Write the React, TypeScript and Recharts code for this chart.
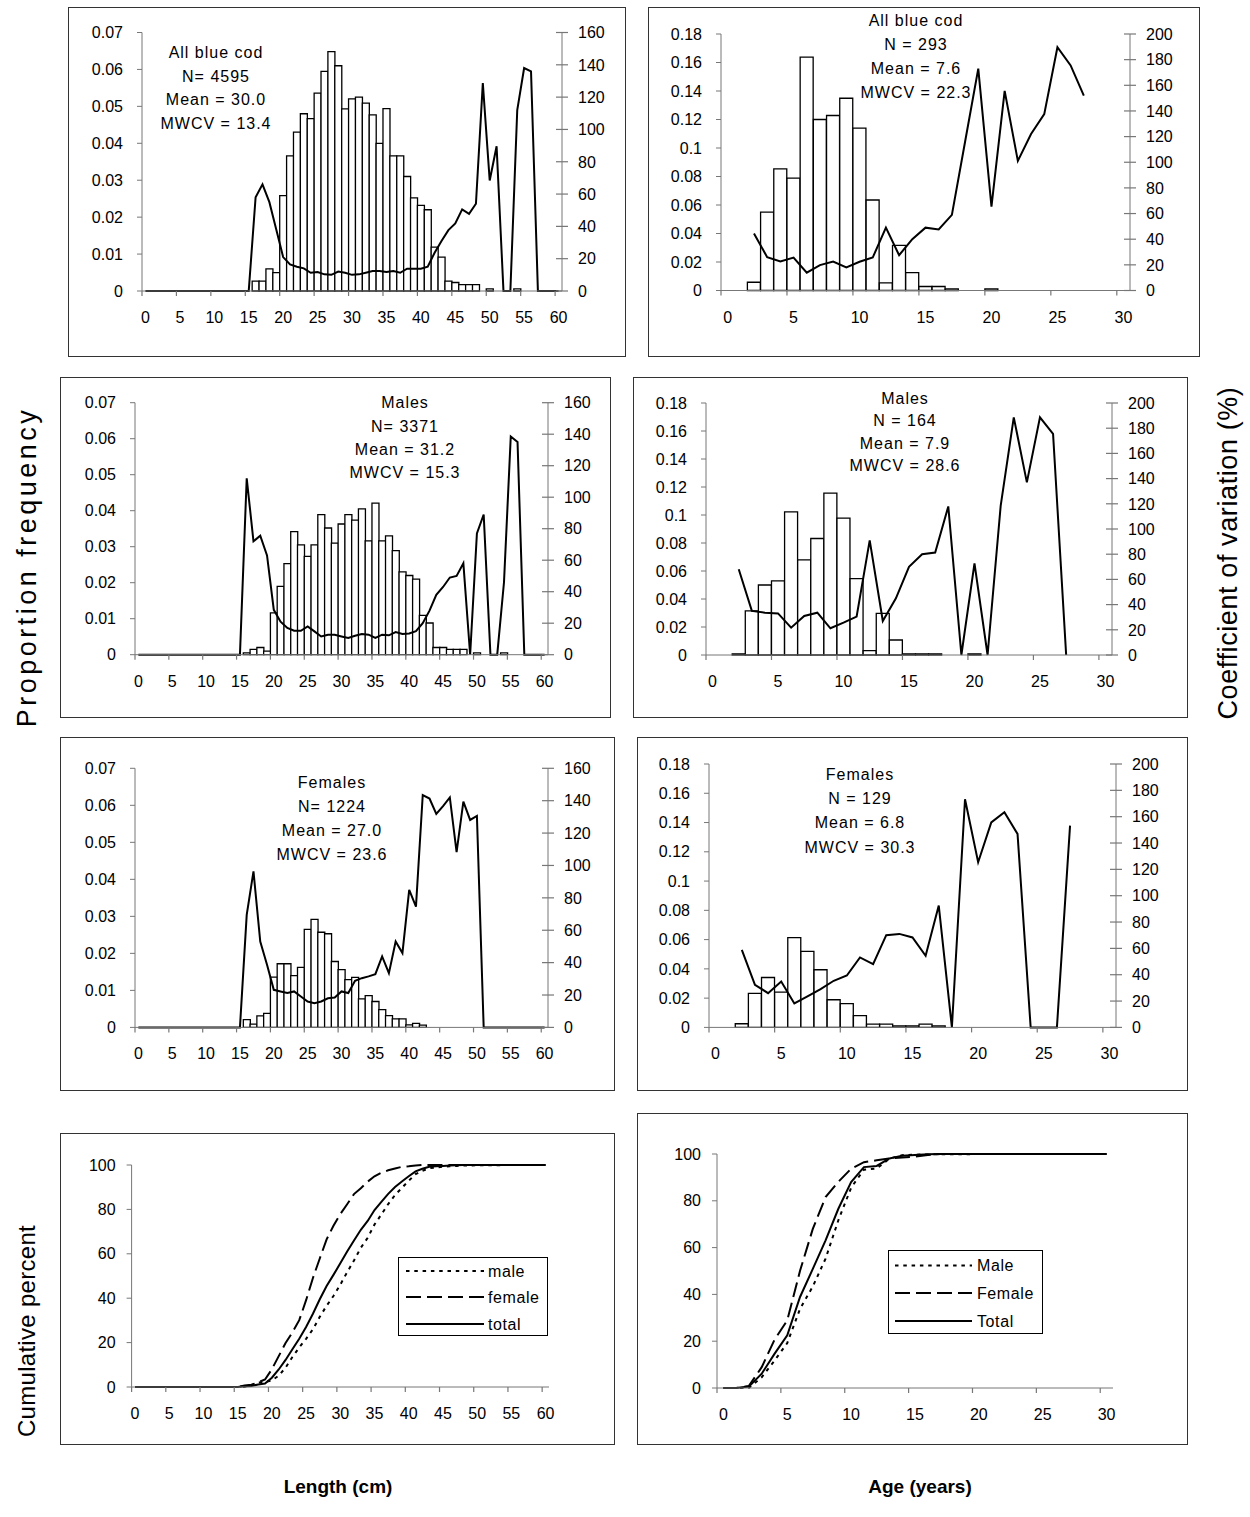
import React from "react";
import { Bar, ComposedChart, Line, XAxis, YAxis } from "recharts";

const FONT = "'Liberation Sans', Arial, Helvetica, sans-serif";
const INK = "#000";
const AXIS = "#777";

// class labels: 1 cm length classes and 1 year age classes
const lengthBins = Array.from({ length: 61 }, (_, i) => i);
const ageBins = Array.from({ length: 31 }, (_, i) => i);

const propTicksLength = [0, 0.01, 0.02, 0.03, 0.04, 0.05, 0.06, 0.07];
const propTicksAge = [0, 0.02, 0.04, 0.06, 0.08, 0.1, 0.12, 0.14, 0.16, 0.18];
const cvTicksLength = [0, 20, 40, 60, 80, 100, 120, 140, 160];
const cvTicksAge = [0, 20, 40, 60, 80, 100, 120, 140, 160, 180, 200];
const cumTicks = [0, 20, 40, 60, 80, 100];

// proportion at length / CV (%) at length
const lenPropAll = [
  0, 0, 0, 0, 0, 0, 0, 0, 0, 0,
  0, 0, 0, 0, 0, 0, 0.0027, 0.0027, 0.006, 0.005,
  0.0258, 0.0366, 0.043, 0.048, 0.0467, 0.0536, 0.0595, 0.0648, 0.061, 0.0493,
  0.052, 0.0525, 0.0509, 0.0477, 0.04, 0.0494, 0.0366, 0.0366, 0.031, 0.0252,
  0.0232, 0.022, 0.0119, 0.0092, 0.0027, 0.0023, 0.0017, 0.0017, 0.0017, 0,
  0.0006, 0, 0, 0, 0.0006, 0, 0, 0, 0, 0,
  0,
];
const lenCvAll = [
  0, 0, 0, 0, 0, 0, 0, 0, 0, 0,
  0, 0, 0, 0, 0, 0, 58, 66, 55, 38,
  21, 16.5, 15, 14, 11.3, 11.7, 10.3, 10, 12, 11.3,
  10, 10.3, 11.3, 12.4, 12.4, 11.7, 12.4, 11.3, 13.8, 13.8,
  13.8, 15, 23.7, 31, 37.7, 41.8, 50.5, 47.8, 54, 128.7,
  68.4, 89.6, 0, 0, 112, 138, 136, 0, 0, 0,
  0,
];
const lenPropMale = [
  0, 0, 0, 0, 0, 0, 0, 0, 0, 0,
  0, 0, 0, 0, 0, 0, 0.0005, 0.0015, 0.002, 0.001,
  0.0116, 0.019, 0.0253, 0.0342, 0.0305, 0.0273, 0.0305, 0.0389, 0.0352, 0.031,
  0.0363, 0.0389, 0.0374, 0.0405, 0.0316, 0.0421, 0.0316, 0.033, 0.0289, 0.023,
  0.022, 0.021, 0.0109, 0.0088, 0.002, 0.002, 0.0015, 0.0015, 0.0015, 0,
  0.0005, 0, 0, 0, 0.0005, 0, 0, 0, 0, 0,
  0,
];
const lenCvMale = [
  0, 0, 0, 0, 0, 0, 0, 0, 0, 0,
  0, 0, 0, 0, 0, 0, 112, 72, 75.5, 63,
  28.5, 21, 17, 15.2, 15.2, 18, 14.8, 11.6, 12.7, 12.7,
  11.6, 10.6, 12, 13.1, 12.7, 10.6, 12.7, 12.3, 14.4, 13.1,
  13.5, 15, 20, 28, 38, 43, 49, 50, 58, 0,
  77, 89, 0, 0, 46, 138.5, 135, 0, 0, 0,
  0,
];
const lenPropFemale = [
  0, 0, 0, 0, 0, 0, 0, 0, 0, 0,
  0, 0, 0, 0, 0, 0, 0.0021, 0.0009, 0.0031, 0.0038,
  0.0136, 0.0172, 0.0172, 0.014, 0.0162, 0.0265, 0.0292, 0.0257, 0.0253, 0.0178,
  0.0156, 0.0129, 0.0135, 0.0077, 0.0086, 0.007, 0.0048, 0.0032, 0.0023, 0.0023,
  0.0007, 0.0011, 0.0006, 0, 0, 0, 0, 0, 0, 0,
  0, 0, 0, 0, 0, 0, 0, 0, 0, 0,
  0,
];
const lenCvFemale = [
  0, 0, 0, 0, 0, 0, 0, 0, 0, 0,
  0, 0, 0, 0, 0, 0, 69.5, 96.3, 53, 38.7,
  23.2, 22.2, 21.2, 22.2, 19.1, 16, 15, 16, 18, 18.5,
  22.2, 21.2, 28.8, 30.4, 31.5, 32.9, 43.8, 33.5, 53, 45.9,
  84.9, 74.6, 143.5, 141.3, 131.8, 136.7, 142, 108.2, 139.4, 128.1,
  130.6, 0, 0, 0, 0, 0, 0, 0, 0, 0,
  0,
];

// proportion at age / CV (%) at age
const agePropAll = [
  0, 0, 0.0058, 0.055, 0.0853, 0.0788, 0.1638, 0.12, 0.1228, 0.1349,
  0.114, 0.0635, 0.0053, 0.0317, 0.0125, 0.0028, 0.0028, 0.0012, 0, 0,
  0.0012, 0, 0, 0, 0, 0, 0, 0, 0, 0,
  0,
];
const ageCvAll = [
  null, null, 44.5, 26, 22.6, 25.7, 13.9, 19.8, 22.6, 18,
  22.4, 25.7, 49, 27.5, 40, 49, 47.6, 59, 116, 173,
  65.4, 155.7, 101, 122, 137.5, 189.7, 175.5, 152, null, null,
  null,
];
const agePropMale = [
  0, 0, 0.0008, 0.0315, 0.05, 0.053, 0.1023, 0.068, 0.0832, 0.1156,
  0.0977, 0.0546, 0.0031, 0.0298, 0.0107, 0.0008, 0.0008, 0.0008, 0, 0,
  0.0008, 0, 0, 0, 0, 0, 0, 0, 0, 0,
  0,
];
const ageCvMale = [
  null, null, 68, 35, 33.6, 33, 21.7, 31, 33.6, 21.2,
  25.7, 30.5, 91, 27, 45, 70, 80, 81.3, 117.9, 0,
  72.8, 0, 118.4, 188.6, 137, 188.6, 175.4, 0, null, null,
  null,
];
const agePropFemale = [
  0, 0, 0.0025, 0.0232, 0.0341, 0.0241, 0.0614, 0.0519, 0.0394, 0.0189,
  0.0162, 0.008, 0.0023, 0.0023, 0.0011, 0.0011, 0.0023, 0.0011, 0, 0,
  0, 0, 0, 0, 0, 0, 0, 0, 0, 0,
  0,
];
const ageCvFemale = [
  null, null, 58.9, 32.4, 26, 34.9, 18.2, 23.5, 29, 35.4,
  39.4, 53.1, 48, 70, 71, 68.3, 54.4, 92.5, 0, 173.2,
  125.4, 155.7, 163.4, 146.9, 0, 0, 0, 153.2, null, null,
  null,
];

// cumulative percent at length
const cumLenMale = [
  0, 0, 0, 0, 0, 0, 0, 0, 0, 0,
  0, 0, 0, 0, 0, 0, 0.1, 0.8, 2, 2.2,
  3, 5.1, 8.7, 13.5, 17.8, 21.7, 26, 31.6, 36.6, 41,
  46.1, 51.7, 57, 62.7, 67.2, 73.2, 77.7, 82.4, 86.5, 89.7,
  92.9, 95.9, 97.4, 98.6, 98.9, 99.2, 99.4, 99.6, 99.8, 99.8,
  99.9, 99.9, 99.9, 99.9, 100, 100, 100, 100, 100, 100,
  100,
];
const cumLenFemale = [
  0, 0, 0, 0, 0, 0, 0, 0, 0, 0,
  0, 0, 0, 0, 0, 0, 0.7, 1, 2.1, 3.4,
  8, 13.9, 19.8, 24.6, 30.1, 39.1, 49.1, 57.9, 66.5, 72.6,
  77.9, 82.3, 86.9, 89.5, 92.5, 94.9, 96.5, 97.6, 98.4, 99.2,
  99.4, 99.8, 100, 100, 100, 100, 100, 100, 100, 100,
  100, 100, 100, 100, 100, 100, 100, 100, 100, 100,
  100,
];
const cumLenTotal = [
  0, 0, 0, 0, 0, 0, 0, 0, 0, 0,
  0, 0, 0, 0, 0, 0, 0.3, 0.5, 1.1, 1.6,
  4.2, 7.9, 12.2, 17, 21.7, 27, 33, 39.5, 45.5, 50.5,
  55.7, 61, 66, 70.8, 74.8, 79.7, 83.4, 87, 90.1, 92.6,
  94.9, 97.1, 98.3, 99.2, 99.4, 99.6, 99.8, 99.9, 100, 100,
  100, 100, 100, 100, 100, 100, 100, 100, 100, 100,
  100,
];

// cumulative percent at age
const cumAgeMale = [
  0, 0, 0.1, 4.6, 11.7, 19.2, 33.8, 43.4, 55.3, 71.7,
  85.6, 93.3, 93.8, 98, 99.5, 99.7, 99.8, 99.9, 99.9, 99.9,
  100, 100, 100, 100, 100, 100, 100, 100, 100, 100,
  100,
];
const cumAgeFemale = [
  0, 0, 0.9, 8.9, 20.6, 28.9, 50.1, 68, 81.6, 88.1,
  93.7, 96.5, 97.3, 98.1, 98.5, 98.9, 99.6, 100, 100, 100,
  100, 100, 100, 100, 100, 100, 100, 100, 100, 100,
  100,
];
const cumAgeTotal = [
  0, 0, 0.6, 6.1, 14.6, 22.5, 38.9, 50.9, 63.1, 76.6,
  88, 94.4, 94.9, 98.1, 99.3, 99.6, 99.9, 100, 100, 100,
  100, 100, 100, 100, 100, 100, 100, 100, 100, 100,
  100,
];

type Rect = { left: number; top: number; right: number; bottom: number };

type HistSpec = {
  box: Rect;
  plot: Rect;
  bins: number[];
  prop: number[];
  cv: (number | null)[];
  propTop: number;
  propTicks: number[];
  cvTop: number;
  cvTicks: number[];
  notes: string[];
  noteX: number;
  noteY: number;
  noteGap: number;
};

type CumSpec = {
  box: Rect;
  plot: Rect;
  bins: number[];
  male: number[];
  female: number[];
  total: number[];
  labels: [string, string, string];
  legend: Rect;
  legendRows: number[];
  sample: [number, number];
  legendTextX: number;
};

const X_TICK_SIZE = 5;
const X_TICK_MARGIN = 4;

// label centred on the class, tick mark on the class boundary
function BandTick(props: any) {
  const { x, y, payload, half } = props;
  const axisY = y - X_TICK_SIZE - X_TICK_MARGIN;
  const tx = x - half;
  return (
    <g>
      <line x1={tx} x2={tx} y1={axisY} y2={axisY + 5} stroke={AXIS} strokeWidth={1.2} />
      <text x={x} y={axisY + 32} textAnchor="middle" fontSize={16} fill={INK}>
        {payload.value}
      </text>
    </g>
  );
}

// right axis: tick marks cross the axis line
function CrossTick(props: any) {
  const { x, y, payload } = props;
  const axisX = x - 16;
  return (
    <g>
      <line x1={axisX - 6} x2={axisX + 6} y1={y} y2={y} stroke={AXIS} strokeWidth={1.2} />
      <text x={x} y={y} dy="0.36em" textAnchor="start" fontSize={16} fill={INK}>
        {payload.value}
      </text>
    </g>
  );
}

function Frame({ box }: { box: Rect }) {
  return (
    <div
      style={{
        position: "absolute",
        left: box.left,
        top: box.top,
        width: box.right - box.left,
        height: box.bottom - box.top,
        border: "1.5px solid #333",
        boxSizing: "border-box",
      }}
    />
  );
}

function Histogram({ s }: { s: HistSpec }) {
  const { box, plot } = s;
  const w = box.right - box.left;
  const h = box.bottom - box.top;
  const half = (plot.right - plot.left) / s.bins.length / 2;
  const data = s.bins.map((b, i) => ({ bin: b, prop: s.prop[i], cv: s.cv[i] }));
  return (
    <>
      <Frame box={box} />
      <div style={{ position: "absolute", left: box.left, top: box.top }}>
        <ComposedChart
          width={w}
          height={h}
          data={data}
          margin={{ top: plot.top - box.top, right: 0, bottom: 0, left: 0 }}
          barCategoryGap={0}
          barGap={0}
        >
          <XAxis
            dataKey="bin"
            scale="band"
            interval={4}
            height={box.bottom - plot.bottom}
            stroke={AXIS}
            tickLine={false}
            tickSize={X_TICK_SIZE}
            tickMargin={X_TICK_MARGIN}
            tick={(t: any) => <BandTick {...t} half={half} />}
          />
          <YAxis
            yAxisId="p"
            width={plot.left - box.left}
            domain={[0, s.propTop]}
            ticks={s.propTicks}
            interval={0}
            stroke={AXIS}
            tickSize={5}
            tickMargin={14}
            tick={{ fill: INK, fontSize: 16 }}
          />
          <YAxis
            yAxisId="cv"
            orientation="right"
            width={box.right - plot.right}
            domain={[0, s.cvTop]}
            ticks={s.cvTicks}
            interval={0}
            stroke={AXIS}
            tickLine={false}
            tickSize={6}
            tickMargin={10}
            tick={(t: any) => <CrossTick {...t} />}
          />
          <Bar
            yAxisId="p"
            dataKey="prop"
            fill="#fff"
            stroke={INK}
            strokeWidth={1.3}
            isAnimationActive={false}
          />
          <Line
            yAxisId="cv"
            dataKey="cv"
            type="linear"
            stroke={INK}
            strokeWidth={2}
            dot={false}
            activeDot={false}
            connectNulls={false}
            isAnimationActive={false}
          />
        </ComposedChart>
      </div>
      {s.notes.map((t, i) => (
        <div
          key={i}
          style={{
            position: "absolute",
            left: s.noteX - 120,
            width: 240,
            top: s.noteY + i * s.noteGap - 12,
            lineHeight: "24px",
            textAlign: "center",
            fontSize: 16,
            letterSpacing: 1,
            color: INK,
            whiteSpace: "nowrap",
          }}
        >
          {t}
        </div>
      ))}
    </>
  );
}

const SERIES = [
  { key: "male", dash: "3.5 4.8" },
  { key: "female", dash: "15 6" },
  { key: "total", dash: undefined },
];

function Cumulative({ s }: { s: CumSpec }) {
  const { box, plot, legend } = s;
  const w = box.right - box.left;
  const h = box.bottom - box.top;
  const half = (plot.right - plot.left) / s.bins.length / 2;
  const data = s.bins.map((b, i) => ({
    bin: b,
    male: s.male[i],
    female: s.female[i],
    total: s.total[i],
  }));
  const lw = legend.right - legend.left;
  const lh = legend.bottom - legend.top;
  return (
    <>
      <Frame box={box} />
      <div style={{ position: "absolute", left: box.left, top: box.top }}>
        <ComposedChart
          width={w}
          height={h}
          data={data}
          margin={{ top: plot.top - box.top, right: box.right - plot.right, bottom: 0, left: 0 }}
        >
          <XAxis
            dataKey="bin"
            scale="band"
            interval={4}
            height={box.bottom - plot.bottom}
            stroke={AXIS}
            tickLine={false}
            tickSize={X_TICK_SIZE}
            tickMargin={X_TICK_MARGIN}
            tick={(t: any) => <BandTick {...t} half={half} />}
          />
          <YAxis
            width={plot.left - box.left}
            domain={[0, 100]}
            ticks={cumTicks}
            interval={0}
            stroke={AXIS}
            tickSize={5}
            tickMargin={11}
            tick={{ fill: INK, fontSize: 16 }}
          />
          {SERIES.map((se) => (
            <Line
              key={se.key}
              dataKey={se.key}
              type="linear"
              stroke={INK}
              strokeWidth={2}
              strokeDasharray={se.dash}
              dot={false}
              activeDot={false}
              isAnimationActive={false}
            />
          ))}
        </ComposedChart>
      </div>
      <svg
        width={lw}
        height={lh}
        style={{ position: "absolute", left: legend.left, top: legend.top, overflow: "visible" }}
      >
        <rect x={0.5} y={0.5} width={lw - 1} height={lh - 1} fill="#fff" stroke={INK} strokeWidth={1} />
        {SERIES.map((se, i) => (
          <g key={se.key}>
            <line
              x1={s.sample[0]}
              x2={s.sample[1]}
              y1={s.legendRows[i]}
              y2={s.legendRows[i]}
              stroke={INK}
              strokeWidth={2}
              strokeDasharray={se.dash}
            />
            <text x={s.legendTextX} y={s.legendRows[i]} dy="0.36em" fontSize={16} letterSpacing={0.6} fill={INK}>
              {s.labels[i]}
            </text>
          </g>
        ))}
      </svg>
    </>
  );
}

const histograms: HistSpec[] = [
  {
    box: { left: 68, top: 7, right: 626, bottom: 357 },
    plot: { left: 142, top: 32.5, right: 562, bottom: 291 },
    bins: lengthBins,
    prop: lenPropAll,
    cv: lenCvAll,
    propTop: 0.07,
    propTicks: propTicksLength,
    cvTop: 160,
    cvTicks: cvTicksLength,
    notes: ["All blue cod", "N= 4595", "Mean = 30.0", "MWCV = 13.4"],
    noteX: 216,
    noteY: 53,
    noteGap: 23.7,
  },
  {
    box: { left: 648, top: 7, right: 1200, bottom: 357 },
    plot: { left: 721, top: 34, right: 1130, bottom: 290.5 },
    bins: ageBins,
    prop: agePropAll,
    cv: ageCvAll,
    propTop: 0.18,
    propTicks: propTicksAge,
    cvTop: 200,
    cvTicks: cvTicksAge,
    notes: ["All blue cod", "N = 293", "Mean = 7.6", "MWCV = 22.3"],
    noteX: 916,
    noteY: 20.5,
    noteGap: 24,
  },
  {
    box: { left: 60, top: 377, right: 611, bottom: 718 },
    plot: { left: 135, top: 402.7, right: 548, bottom: 654.7 },
    bins: lengthBins,
    prop: lenPropMale,
    cv: lenCvMale,
    propTop: 0.07,
    propTicks: propTicksLength,
    cvTop: 160,
    cvTicks: cvTicksLength,
    notes: ["Males", "N= 3371", "Mean = 31.2", "MWCV = 15.3"],
    noteX: 405,
    noteY: 403.3,
    noteGap: 23.3,
  },
  {
    box: { left: 633, top: 377, right: 1188, bottom: 718 },
    plot: { left: 706, top: 403, right: 1112, bottom: 655 },
    bins: ageBins,
    prop: agePropMale,
    cv: ageCvMale,
    propTop: 0.18,
    propTicks: propTicksAge,
    cvTop: 200,
    cvTicks: cvTicksAge,
    notes: ["Males", "N = 164", "Mean = 7.9", "MWCV = 28.6"],
    noteX: 905,
    noteY: 399,
    noteGap: 22.3,
  },
  {
    box: { left: 60, top: 737, right: 615, bottom: 1091 },
    plot: { left: 135, top: 768.3, right: 548, bottom: 1027.4 },
    bins: lengthBins,
    prop: lenPropFemale,
    cv: lenCvFemale,
    propTop: 0.07,
    propTicks: propTicksLength,
    cvTop: 160,
    cvTicks: cvTicksLength,
    notes: ["Females", "N= 1224", "Mean = 27.0", "MWCV = 23.6"],
    noteX: 332,
    noteY: 783.3,
    noteGap: 23.9,
  },
  {
    box: { left: 637, top: 737, right: 1188, bottom: 1091 },
    plot: { left: 709, top: 764, right: 1116, bottom: 1027.4 },
    bins: ageBins,
    prop: agePropFemale,
    cv: ageCvFemale,
    propTop: 0.18,
    propTicks: propTicksAge,
    cvTop: 200,
    cvTicks: cvTicksAge,
    notes: ["Females", "N = 129", "Mean = 6.8", "MWCV = 30.3"],
    noteX: 860,
    noteY: 775,
    noteGap: 24.2,
  },
];

const cumulatives: CumSpec[] = [
  {
    box: { left: 60, top: 1133, right: 615, bottom: 1445 },
    plot: { left: 131.6, top: 1165, right: 549, bottom: 1387 },
    bins: lengthBins,
    male: cumLenMale,
    female: cumLenFemale,
    total: cumLenTotal,
    labels: ["male", "female", "total"],
    legend: { left: 398, top: 1257, right: 548, bottom: 1336 },
    legendRows: [14, 40, 67],
    sample: [8, 86],
    legendTextX: 90,
  },
  {
    box: { left: 637, top: 1113, right: 1188, bottom: 1445 },
    plot: { left: 717, top: 1154, right: 1113, bottom: 1388 },
    bins: ageBins,
    male: cumAgeMale,
    female: cumAgeFemale,
    total: cumAgeTotal,
    labels: ["Male", "Female", "Total"],
    legend: { left: 888, top: 1250, right: 1043, bottom: 1334 },
    legendRows: [15.5, 43, 71],
    sample: [7, 84],
    legendTextX: 89,
  },
];

function SideTitle({
  text,
  cx,
  cy,
  size,
  spacing,
}: {
  text: string;
  cx: number;
  cy: number;
  size: number;
  spacing: number;
}) {
  return (
    <div
      style={{
        position: "absolute",
        left: cx - 250,
        top: cy - 18,
        width: 500,
        height: 36,
        lineHeight: "36px",
        textAlign: "center",
        fontSize: size,
        letterSpacing: spacing,
        color: INK,
        transform: "rotate(-90deg)",
        whiteSpace: "nowrap",
      }}
    >
      {text}
    </div>
  );
}

function BottomTitle({ text, cx, cy }: { text: string; cx: number; cy: number }) {
  return (
    <div
      style={{
        position: "absolute",
        left: cx - 150,
        top: cy - 14,
        width: 300,
        lineHeight: "28px",
        textAlign: "center",
        fontSize: 19,
        fontWeight: 700,
        color: INK,
      }}
    >
      {text}
    </div>
  );
}

export default function App() {
  return (
    <div
      style={{
        position: "absolute",
        left: 0,
        top: 0,
        width: 1250,
        height: 1517,
        background: "#fff",
        overflow: "hidden",
        fontFamily: FONT,
      }}
    >
      {histograms.map((s, i) => (
        <Histogram key={i} s={s} />
      ))}
      {cumulatives.map((s, i) => (
        <Cumulative key={i} s={s} />
      ))}
      <SideTitle text="Proportion frequency" cx={27} cy={567} size={27} spacing={3.5} />
      <SideTitle text="Coefficient of variation (%)" cx={1228} cy={553} size={27} spacing={0.6} />
      <SideTitle text="Cumulative percent" cx={27} cy={1331} size={24} spacing={0.3} />
      <BottomTitle text="Length (cm)" cx={338} cy={1487} />
      <BottomTitle text="Age (years)" cx={920} cy={1487} />
    </div>
  );
}
